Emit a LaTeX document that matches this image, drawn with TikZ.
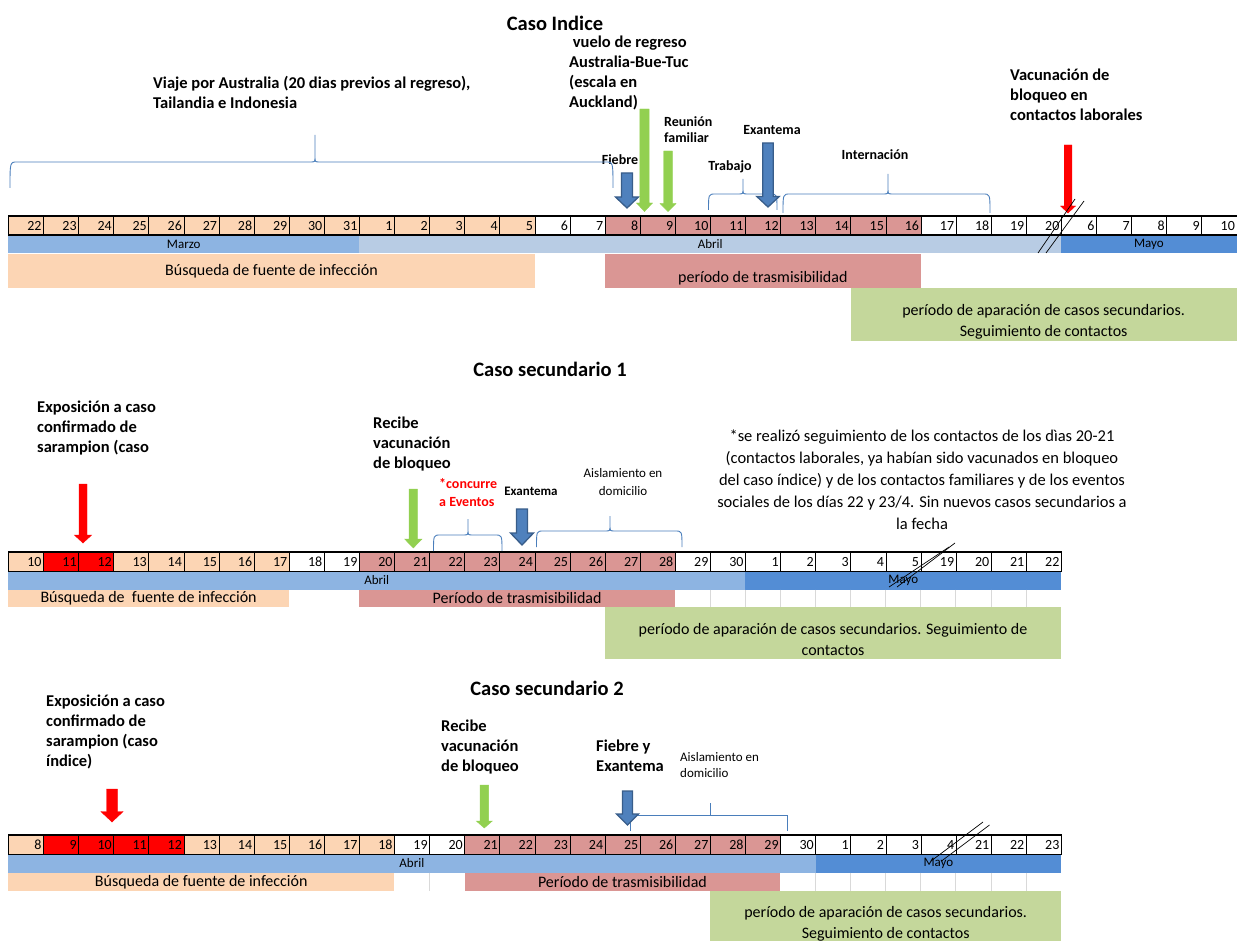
\documentclass[tikz,border=0pt]{standalone}
\usepackage{fontspec}
\setmainfont{Carlito}
\usepackage{xcolor}
\usetikzlibrary{positioning}

\definecolor{peach}{HTML}{FCD5B4}
\definecolor{rosa}{HTML}{DA9694}
\definecolor{rojo}{HTML}{FF0000}
\definecolor{azulmed}{HTML}{8DB4E2}
\definecolor{azulclaro}{HTML}{B8CCE4}
\definecolor{azulmayo}{HTML}{538DD5}
\definecolor{verdebar}{HTML}{C4D79B}
\definecolor{verdeflecha}{HTML}{92D050}
\definecolor{azulflecha}{HTML}{4F81BD}
\definecolor{azulborde}{HTML}{385D8A}
\definecolor{llave}{HTML}{4A7EBB}

% block arrow: style, x, y top, y tip, half shaft, half head, head length
\newcommand{\flecha}[7]{%
  \filldraw[#1] ({#2-#5},#3) -- ({#2+#5},#3) -- ({#2+#5},{#4-#7}) -- ({#2+#6},{#4-#7})
    -- (#2,#4) -- ({#2-#6},{#4-#7}) -- ({#2-#5},{#4-#7}) -- cycle;}
% curly brace: x left, x tip, x right, y ends, y line, y tip
\newcommand{\llave}[6]{%
  \draw[llavelinea] (#1,#4) .. controls (#1,#5) .. ({#1+7},#5) -- ({#2-5},#5)
    .. controls (#2,#5) .. (#2,{#5-5}) -- (#2,#6) -- (#2,{#5-5})
    .. controls (#2,#5) .. ({#2+5},#5) -- ({#3-7},#5) .. controls (#3,#5) .. (#3,#4);}

\begin{document}
\begin{tikzpicture}[x=1pt, y=-1pt,
	cell/.style={draw, line width=0.8pt, anchor=north west, minimum height=18.5pt, text width=31.1pt, inner xsep=2pt, inner ysep=0pt, align=right, font=\fontsize{14}{14}\selectfont},
	mes/.style={anchor=north west, minimum height=18pt, inner sep=0pt, font=\fontsize{13}{13}\selectfont},
	barra/.style={anchor=north west, inner sep=0pt, font=\fontsize{16}{21}\selectfont},
	bartexto/.style={font=\fontsize{16}{21}\selectfont, align=center, inner sep=0pt},
	titulo/.style={font=\bfseries\fontsize{20.5}{24}\selectfont, inner sep=0pt},
	etiqueta/.style={font=\bfseries\fontsize{16.5}{20}\selectfont, align=left, anchor=west, inner sep=0pt},
	chica/.style={font=\bfseries\fontsize{14}{16}\selectfont, align=left, inner sep=0pt},
	aislam/.style={font=\fontsize{13}{18}\selectfont, align=center, inner sep=0pt},
	nota/.style={font=\fontsize{16.5}{22}\selectfont, align=center, inner sep=0pt},
	llavelinea/.style={draw=llave, line width=0.9pt},
	verde/.style={fill=verdeflecha, draw=verdeflecha, line width=0.4pt},
	azul/.style={fill=azulflecha, draw=azulborde, line width=1.3pt},
	roja/.style={fill=rojo, draw=rojo, line width=0.4pt},
	corte/.style={line width=0.7pt},
	grilla/.style={draw=black!15, line width=0.6pt}]

	\useasboundingbox (0,0) rectangle (1237,941);

	%%% Caso Indice
	\node[titulo] (caso1) at (555,23) {Caso Indice};

	\foreach \n/\col [count=\i] in {22/peach,23/peach,24/peach,25/peach,26/peach,27/peach,28/peach,29/peach,30/peach,31/peach,1/peach,2/peach,3/peach,4/peach,5/peach,6/white,7/white,8/rosa,9/rosa,10/rosa,11/rosa,12/rosa,13/rosa,14/rosa,15/rosa,16/rosa,17/white,18/white,19/white,20/white,6/white,7/white,8/white,9/white,10/white}
		\node[cell, fill=\col] (a\i) at ({8+(\i-1)*35.1},216) {\n};

	\node[mes, fill=azulmed, minimum width=351pt] (marzo1) at (a1.south west) {Marzo};
	\node[mes, fill=azulclaro, minimum width=702pt] (abril1) at (a11.south west) {Abril};
	\node[mes, fill=azulmayo, minimum width=175.5pt] (mayo1) at (a31.south west) {Mayo};
	\draw[line width=1.6pt] (a1.north west) -- (a35.north east);
	\draw[line width=1.1pt] (a1.south west) -- (a35.south east);

	\node[barra, fill=peach, minimum width=526.5pt, minimum height=34pt] (busq1) at (marzo1.south west) {Búsqueda de fuente de infección};
	\node[barra, fill=rosa, minimum width=315.9pt, minimum height=34pt] (trans1) at (a18.south west |- marzo1.south) {};
	\node[bartexto] (trans1t) at ([yshift=-7pt]trans1.center) {período de trasmisibilidad};
	\node[barra, fill=verdebar, minimum width=386.1pt, minimum height=53pt] (sec1) at (a25.south west |- trans1.south) {};
	\node[bartexto] (sec1t) at ([yshift=-7pt]sec1.center) {período de aparación de casos secundarios.\\Seguimiento de contactos};

	\node[etiqueta] (viaje) at (153,92) {Viaje por Australia (20 dias previos al regreso),\\Tailandia e Indonesia};
	\node[etiqueta] (vuelo) at (569,73) {\ vuelo de regreso\\Australia-Bue-Tuc\\(escala en\\Auckland)};
	\node[etiqueta] (vacuna1) at (1010,95) {Vacunación de\\bloqueo en\\contactos laborales};
	\node[chica] (fiebre1) at (620,160) {Fiebre};
	\node[chica, anchor=west] (reunion) at (664,130) {Reunión\\familiar};
	\node[chica] (trabajo) at (730,167) {Trabajo};
	\node[chica] (exan1) at (772,130) {Exantema};
	\node[chica] (intern) at (875,155) {Internación};

	\llave{10}{315}{613}{188}{162}{135}
	\llave{708.5}{743}{777}{210}{194}{179}
	\llave{783}{888}{990}{213}{194}{174}

	\flecha{azul}{627}{173}{208}{5.5}{11.5}{11}
	\flecha{verde}{644.5}{109}{211.5}{4.7}{8}{8.5}
	\flecha{verde}{668}{151}{211.5}{4.3}{8}{8}
	\flecha{azul}{768}{143}{207}{5.3}{11.2}{10.5}
	\flecha{roja}{1068}{145}{213}{3.8}{7.5}{7}

	\draw[corte] (1038,253) -- (1075,199);
	\draw[corte] (1046,253) -- (1084,201);

	%%% Caso secundario 1
	\node[titulo] (caso2) at (550,369) {Caso secundario 1};

	\foreach \n/\col [count=\i] in {10/peach,11/rojo,12/rojo,13/peach,14/peach,15/peach,16/peach,17/peach,18/white,19/white,20/rosa,21/rosa,22/rosa,23/rosa,24/rosa,25/rosa,26/rosa,27/rosa,28/rosa,29/white,30/white,1/white,2/white,3/white,4/white,5/white,19/white,20/white,21/white,22/white}
		\node[cell, fill=\col] (b\i) at ({8+(\i-1)*35.1},552) {\n};

	\node[mes, fill=azulmed, minimum width=737.1pt] (abril2) at (b1.south west) {Abril};
	\node[mes, fill=azulmayo, minimum width=315.9pt] (mayo2) at (b22.south west) {Mayo};
	\draw[line width=1.6pt] (b1.north west) -- (b30.north east);
	\draw[line width=1.1pt] (b1.south west) -- (b30.south east);

	\node[barra, fill=peach, minimum width=280.8pt, minimum height=17pt] (busq2) at (abril2.south west) {Búsqueda de \ fuente de infección};
	\node[barra, fill=rosa, minimum width=315.9pt, minimum height=17pt] (trans2) at (b11.south west |- abril2.south) {Período de trasmisibilidad};
	\foreach \i in {21,...,30}
		\draw[grilla] (b\i.south west |- abril2.south) -- ++(0,17);
	\node[barra, fill=verdebar, minimum width=456.3pt, minimum height=52pt] (sec2) at (b18.south west |- trans2.south) {};
	\node[bartexto] (sec2t) at ([yshift=-6pt]sec2.center) {período de aparación de casos secundarios. Seguimiento de\\contactos};

	\node[etiqueta] (expo2) at (37,428) {Exposición a caso\\confirmado de\\sarampion (caso};
	\node[etiqueta] (recibe2) at (373,444) {Recibe\\vacunación\\de bloqueo};
	\node[chica, anchor=west, text=rojo, font=\bfseries\fontsize{14}{18}\selectfont] (concurre) at (439,493) {*concurre\\a Eventos};
	\node[chica, font=\bfseries\fontsize{13}{16}\selectfont] (exan2) at (531,491) {Exantema};
	\node[aislam] (aisla2) at (623,482) {Aislamiento en\\domicilio};
	\node[nota] (nota) at (922,480) {*se realizó seguimiento de los contactos de los dìas 20-21\\(contactos laborales, ya habían sido vacunados en bloqueo\\del caso índice) y de los contactos familiares y de los eventos\\sociales de los días 22 y 23/4. Sin nuevos casos secundarios a\\la fecha};

	\llave{433.5}{468}{502}{551}{535}{519}
	\llave{536.5}{610}{682}{547}{531}{516}

	\flecha{roja}{83}{484}{543}{4}{8.7}{8}
	\flecha{verde}{413.3}{489}{548}{4.2}{8.7}{9}
	\flecha{azul}{522}{509}{545}{5.5}{11.5}{12}

	\draw[corte] (889,587) -- (949,547);
	\draw[corte] (897,587) -- (955,543);

	%%% Caso secundario 2
	\node[titulo] (caso3) at (547,688) {Caso secundario 2};

	\foreach \n/\col [count=\i] in {8/peach,9/rojo,10/rojo,11/rojo,12/rojo,13/peach,14/peach,15/peach,16/peach,17/peach,18/peach,19/white,20/white,21/rosa,22/rosa,23/rosa,24/rosa,25/rosa,26/rosa,27/rosa,28/rosa,29/rosa,30/white,1/white,2/white,3/white,4/white,21/white,22/white,23/white}
		\node[cell, fill=\col] (c\i) at ({8+(\i-1)*35.1},835) {\n};

	\node[mes, fill=azulmed, minimum width=807.3pt] (abril3) at (c1.south west) {Abril};
	\node[mes, fill=azulmayo, minimum width=245.7pt] (mayo3) at (c24.south west) {Mayo};
	\draw[line width=1.6pt] (c1.north west) -- (c30.north east);
	\draw[line width=1.1pt] (c1.south west) -- (c30.south east);

	\node[barra, fill=peach, minimum width=386.1pt, minimum height=18pt] (busq3) at (abril3.south west) {Búsqueda de fuente de infección};
	\node[barra, fill=rosa, minimum width=315.9pt, minimum height=18pt] (trans3) at (c14.south west |- abril3.south) {Período de trasmisibilidad};
	\foreach \i in {13,24,25,...,30}
		\draw[grilla] (c\i.south west |- abril3.south) -- ++(0,18);
	\node[barra, fill=verdebar, minimum width=351pt, minimum height=52pt] (sec3) at (c21.south west |- trans3.south) {};
	\node[bartexto] (sec3t) at ([yshift=-6.5pt]sec3.center) {período de aparación de casos secundarios.\\Seguimiento de contactos};

	\node[etiqueta] (expo3) at (46,731.5) {Exposición a caso\\confirmado de\\sarampion (caso\\índice)};
	\node[etiqueta] (recibe3) at (441,747) {Recibe\\vacunación\\de bloqueo};
	\node[etiqueta] (fiebre3) at (596,756) {Fiebre y\\Exantema};
	\node[aislam, align=left, anchor=west, font=\fontsize{13}{16}\selectfont] (aisla3) at (680,765) {Aislamiento en\\domicilio};

	\draw[llavelinea] (630,831) -- (630,815) -- (787,815) -- (787,831);
	\draw[llavelinea] (710,815) -- (710,803);

	\flecha{roja}{112}{789}{822}{5.5}{11.2}{10.5}
	\flecha{verde}{484.3}{785}{828}{4.3}{8}{7}
	\flecha{azul}{627.5}{791}{825}{5}{11}{11}

	\draw[corte] (931,861) -- (983,822);
	\draw[corte] (941.5,861) -- (989.5,825);

\end{tikzpicture}
\end{document}
